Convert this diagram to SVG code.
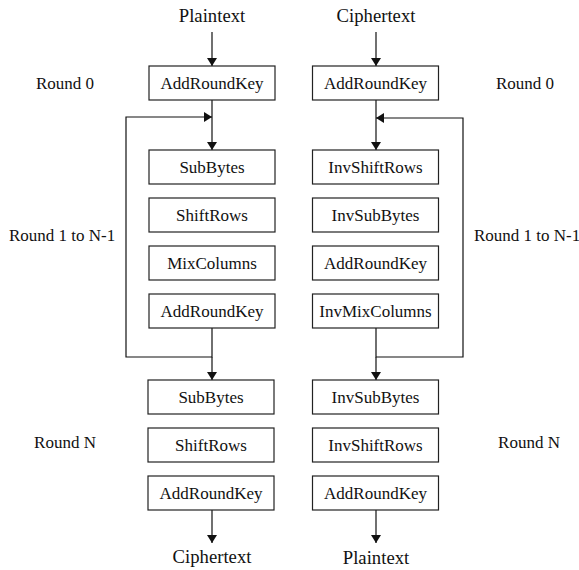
<svg xmlns="http://www.w3.org/2000/svg" width="579" height="570" viewBox="0 0 579 570">
  <style>
    .box rect { fill: #ffffff; stroke: #222222; stroke-width: 1.2; }
    .box text, .lbl { font-family: "Liberation Serif", "Times New Roman", serif; font-size: 17px; fill: #111111; text-anchor: middle; }
    .io { font-family: "Liberation Serif", "Times New Roman", serif; font-size: 18.7px; fill: #111111; text-anchor: middle; }
    .wire { fill: none; stroke: #111111; stroke-width: 1.2; }
  </style>
  <defs>
    <marker id="arrow" viewBox="0 0 8 10" refX="8" refY="5" markerWidth="8" markerHeight="10" markerUnits="userSpaceOnUse" orient="auto">
      <path d="M0,0 L8,5 L0,10 Z" fill="#111111"/>
    </marker>
  </defs>

  <rect width="579" height="570" fill="#ffffff"/>

  <!-- Stage labels -->
  <text class="io" x="212" y="22">Plaintext</text>
  <text class="io" x="376" y="22">Ciphertext</text>
  <text class="io" x="212" y="563">Ciphertext</text>
  <text class="io" x="376" y="564">Plaintext</text>

  <text class="lbl" x="65" y="89">Round 0</text>
  <text class="lbl" x="525" y="89">Round 0</text>
  <text class="lbl" x="62" y="241">Round 1 to N-1</text>
  <text class="lbl" x="527" y="241">Round 1 to N-1</text>
  <text class="lbl" x="65" y="448">Round N</text>
  <text class="lbl" x="529" y="448">Round N</text>

  <!-- Connectors -->
  <g id="connectors">
    <!-- encryption -->
    <line class="wire" x1="212" y1="32" x2="212" y2="66" marker-end="url(#arrow)"/>
    <line class="wire" x1="212" y1="100" x2="212" y2="150" marker-end="url(#arrow)"/>
    <polyline class="wire" points="212,328 212,357 126,357 126,117 212,117" marker-end="url(#arrow)"/>
    <line class="wire" x1="212" y1="357" x2="212" y2="380" marker-end="url(#arrow)"/>
    <line class="wire" x1="212" y1="510" x2="212" y2="543" marker-end="url(#arrow)"/>
    <!-- decryption -->
    <line class="wire" x1="376" y1="32" x2="376" y2="66" marker-end="url(#arrow)"/>
    <line class="wire" x1="376" y1="100" x2="376" y2="150" marker-end="url(#arrow)"/>
    <polyline class="wire" points="376,328 376,357 463,357 463,118 376,118" marker-end="url(#arrow)"/>
    <line class="wire" x1="376" y1="357" x2="376" y2="380" marker-end="url(#arrow)"/>
    <line class="wire" x1="376" y1="510" x2="376" y2="543" marker-end="url(#arrow)"/>
  </g>

  <!-- Encryption column -->
  <g id="enc-addroundkey-0" class="box"><rect x="149" y="66" width="126" height="34"/><text x="212" y="89">AddRoundKey</text></g>
  <g id="enc-subbytes" class="box"><rect x="149" y="150" width="126" height="34"/><text x="212" y="173">SubBytes</text></g>
  <g id="enc-shiftrows" class="box"><rect x="149" y="198" width="126" height="34"/><text x="212" y="221">ShiftRows</text></g>
  <g id="enc-mixcolumns" class="box"><rect x="149" y="246" width="126" height="34"/><text x="212" y="269">MixColumns</text></g>
  <g id="enc-addroundkey" class="box"><rect x="149" y="294" width="126" height="34"/><text x="212" y="317">AddRoundKey</text></g>
  <g id="enc-subbytes-n" class="box"><rect x="148" y="380" width="126" height="34"/><text x="211" y="403">SubBytes</text></g>
  <g id="enc-shiftrows-n" class="box"><rect x="148" y="428" width="126" height="34"/><text x="211" y="451">ShiftRows</text></g>
  <g id="enc-addroundkey-n" class="box"><rect x="148" y="476" width="126" height="34"/><text x="211" y="499">AddRoundKey</text></g>

  <!-- Decryption column -->
  <g id="dec-addroundkey-0" class="box"><rect x="312.5" y="66" width="126" height="34"/><text x="375.5" y="89">AddRoundKey</text></g>
  <g id="dec-invshiftrows" class="box"><rect x="312.5" y="150" width="126" height="34"/><text x="375.5" y="173">InvShiftRows</text></g>
  <g id="dec-invsubbytes" class="box"><rect x="312.5" y="198" width="126" height="34"/><text x="375.5" y="221">InvSubBytes</text></g>
  <g id="dec-addroundkey" class="box"><rect x="312.5" y="246" width="126" height="34"/><text x="375.5" y="269">AddRoundKey</text></g>
  <g id="dec-invmixcolumns" class="box"><rect x="312.5" y="294" width="126" height="34"/><text x="375.5" y="317">InvMixColumns</text></g>
  <g id="dec-invsubbytes-n" class="box"><rect x="312.5" y="380" width="126" height="34"/><text x="375.5" y="403">InvSubBytes</text></g>
  <g id="dec-invshiftrows-n" class="box"><rect x="312.5" y="428" width="126" height="34"/><text x="375.5" y="451">InvShiftRows</text></g>
  <g id="dec-addroundkey-n" class="box"><rect x="312.5" y="476" width="126" height="34"/><text x="375.5" y="499">AddRoundKey</text></g>
</svg>
